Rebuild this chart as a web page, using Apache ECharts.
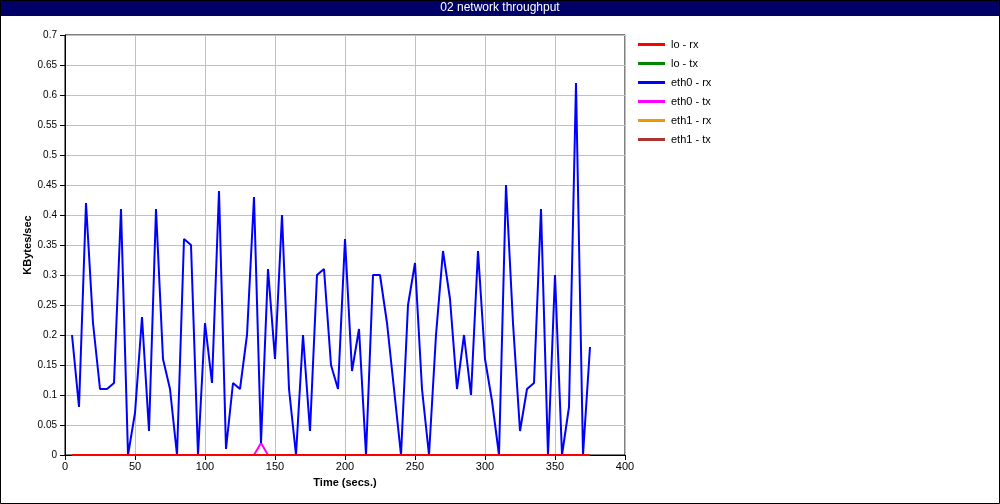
<!DOCTYPE html>
<html>
<head>
<meta charset="utf-8">
<script src="https://cdn.jsdelivr.net/npm/echarts@6/dist/echarts.min.js"></script>
<style>
html,body{margin:0;padding:0;background:#fff;}
#chart{width:1000px;height:504px;}
</style>
</head>
<body>
<div id="chart"></div>
<script>
const titleText = "02 network throughput";
const xName = "Time (secs.)";
const yName = "KBytes/sec";
const seriesNames = ["lo - rx", "lo - tx", "eth0 - rx", "eth0 - tx", "eth1 - rx", "eth1 - tx"];
const seriesColors = ["#ff0000", "#008800", "#0000ff", "#ff00ff", "#ee9900", "#aa3333"];

const times = [5,10,15,20,25,30,35,40,45,50,55,60,65,70,75,80,85,90,95,100,
  105,110,115,120,125,130,135,140,145,150,155,160,165,170,175,180,185,190,195,200,
  205,210,215,220,225,230,235,240,245,250,255,260,265,270,275,280,285,290,295,300,
  305,310,315,320,325,330,335,340,345,350,355,360,365,370,375];

const loRx = [0,0,0,0,0,0,0,0,0,0,0,0,0,0,0,0,0,0,0,0,
  0,0,0,0,0,0,0,0,0,0,0,0,0,0,0,0,0,0,0,0,
  0,0,0,0,0,0,0,0,0,0,0,0,0,0,0,0,0,0,0,0,
  0,0,0,0,0,0,0,0,0,0,0,0,0,0,0];
const loTx = [0,0,0,0,0,0,0,0,0,0,0,0,0,0,0,0,0,0,0,0,
  0,0,0,0,0,0,0,0,0,0,0,0,0,0,0,0,0,0,0,0,
  0,0,0,0,0,0,0,0,0,0,0,0,0,0,0,0,0,0,0,0,
  0,0,0,0,0,0,0,0,0,0,0,0,0,0,0];
const eth0Rx = [0.20,0.08,0.42,0.22,0.11,0.11,0.12,0.41,0.00,0.07,
  0.23,0.04,0.41,0.16,0.11,0.00,0.36,0.35,0.00,0.22,
  0.12,0.44,0.01,0.12,0.11,0.20,0.43,0.02,0.31,0.16,
  0.40,0.11,0.00,0.20,0.04,0.30,0.31,0.15,0.11,0.36,
  0.14,0.21,0.00,0.30,0.30,0.22,0.11,0.00,0.25,0.32,
  0.11,0.00,0.20,0.34,0.26,0.11,0.20,0.10,0.34,0.16,
  0.09,0.00,0.45,0.22,0.04,0.11,0.12,0.41,0.00,0.30,
  0.00,0.08,0.62,0.00,0.18];
const eth0Tx = [0,0,0,0,0,0,0,0,0,0,0,0,0,0,0,0,0,0,0,0,
  0,0,0,0,0,0,0,0.02,0,0,0,0,0,0,0,0,0,0,0,0,
  0,0,0,0,0,0,0,0,0,0,0,0,0,0,0,0,0,0,0,0,
  0,0,0,0,0,0,0,0,0,0,0,0,0,0,0];
const eth1Rx = [0,0,0,0,0,0,0,0,0,0,0,0,0,0,0,0,0,0,0,0,
  0,0,0,0,0,0,0,0,0,0,0,0,0,0,0,0,0,0,0,0,
  0,0,0,0,0,0,0,0,0,0,0,0,0,0,0,0,0,0,0,0,
  0,0,0,0,0,0,0,0,0,0,0,0,0,0,0];
const eth1Tx = [0,0,0,0,0,0,0,0,0,0,0,0,0,0,0,0,0,0,0,0,
  0,0,0,0,0,0,0,0,0,0,0,0,0,0,0,0,0,0,0,0,
  0,0,0,0,0,0,0,0,0,0,0,0,0,0,0,0,0,0,0,0,
  0,0,0,0,0,0,0,0,0,0,0,0,0,0,0];

const allValues = [loRx, loTx, eth0Rx, eth0Tx, eth1Rx, eth1Tx];
const FONT = "Liberation Sans, Arial, sans-serif";

const series = [];
// draw order: first legend entry on top
for (let i = allValues.length - 1; i >= 0; i--) {
  series.push({
    name: seriesNames[i],
    type: 'line',
    data: times.map((t, k) => [t, allValues[i][k]]),
    showSymbol: false,
    symbol: 'none',
    lineStyle: { width: 2, color: seriesColors[i] },
    itemStyle: { color: seriesColors[i] },
    animation: false
  });
}

const chart = echarts.init(document.getElementById('chart'), null, { renderer: 'canvas' });
chart.setOption({
  backgroundColor: '#ffffff',
  animation: false,
  graphic: [
    { type: 'rect', z: 0, shape: { x: 0, y: 0, width: 1000, height: 16 }, style: { fill: '#000066' }, silent: true },
    { type: 'text', z: 1, x: 500, y: 8, style: { text: titleText, fill: '#ffffff', font: '12px ' + FONT, align: 'center', verticalAlign: 'middle' }, silent: true },
    { type: 'rect', z: 100, shape: { x: 0.5, y: 0.5, width: 999, height: 503 }, style: { fill: 'none', stroke: '#000000', lineWidth: 1 }, silent: true }
  ],
  legend: {
    orient: 'vertical',
    left: 633,
    top: 33,
    icon: 'rect',
    itemWidth: 27,
    itemHeight: 3,
    itemGap: 6,
    data: seriesNames,
    textStyle: { fontFamily: FONT, fontSize: 11, color: '#000', lineHeight: 13, padding: [0, 0, 0, 1] },
    selectedMode: false
  },
  grid: {
    left: 65, right: 375, top: 35, bottom: 49,
    show: true, borderColor: '#000', borderWidth: 1, backgroundColor: 'transparent'
  },
  xAxis: {
    type: 'value',
    min: 0, max: 400, interval: 50,
    name: xName,
    nameLocation: 'middle',
    nameGap: 22,
    nameMoveOverlap: false,
    nameTextStyle: { fontFamily: FONT, fontSize: 11, fontWeight: 'bold', color: '#000' },
    axisLine: { lineStyle: { color: '#000', width: 1 } },
    axisTick: { show: true, length: 5, lineStyle: { color: '#000' } },
    axisLabel: { fontFamily: FONT, fontSize: 11, color: '#000', margin: 6 },
    splitLine: { show: true, lineStyle: { color: '#c0c0c0', width: 1 } }
  },
  yAxis: {
    type: 'value',
    min: 0, max: 0.7, interval: 0.05,
    name: yName,
    nameLocation: 'middle',
    nameGap: 32,
    nameMoveOverlap: false,
    nameRotate: 90,
    nameTextStyle: { fontFamily: FONT, fontSize: 11, fontWeight: 'bold', color: '#000' },
    axisLine: { show: true, lineStyle: { color: '#000', width: 1 } },
    axisTick: { show: true, length: 5, lineStyle: { color: '#000' } },
    axisLabel: { fontFamily: FONT, fontSize: 10, color: '#000', margin: 8,
      formatter: function (v) { return String(Math.round(v * 100) / 100); } },
    splitLine: { show: true, lineStyle: { color: '#c0c0c0', width: 1 } }
  },
  series: series
});
</script>
</body>
</html>
